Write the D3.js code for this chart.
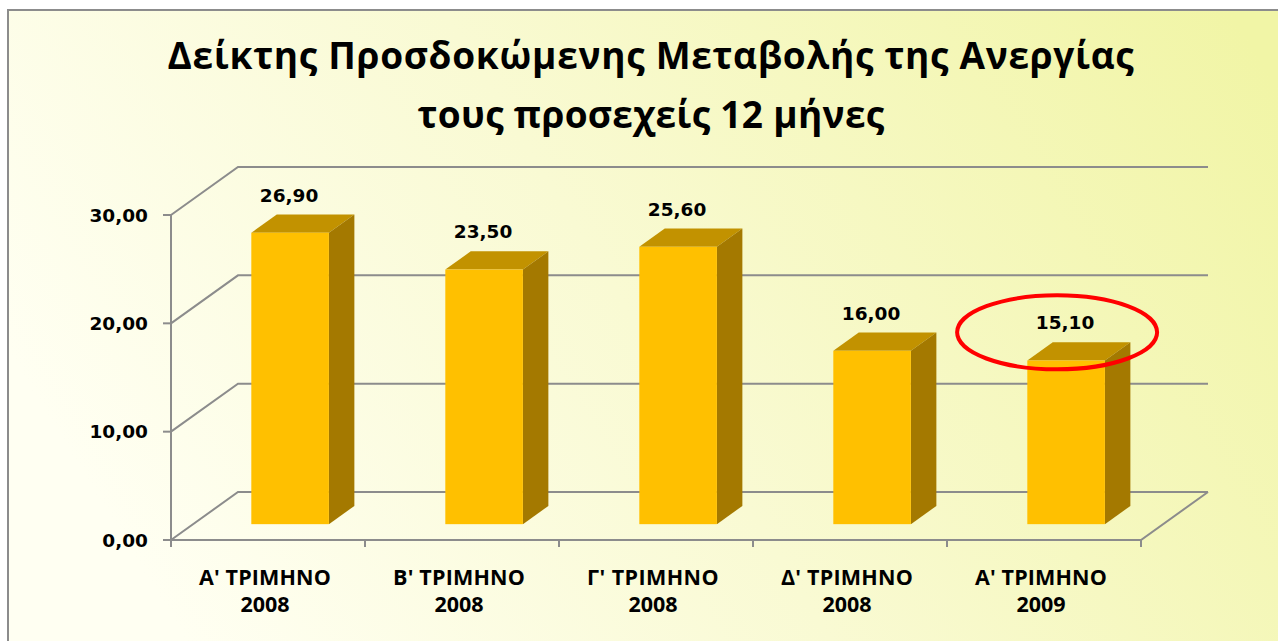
<!DOCTYPE html>
<html>
<head>
<meta charset="utf-8">
<script src="https://cdn.jsdelivr.net/npm/d3@7"></script>
<style>
  body { margin: 0; background: #fff; }
  svg { display: block; }
</style>
</head>
<body>
<script>
// chart values
var quarters = ["Α' ΤΡΙΜΗΝΟ", "Β' ΤΡΙΜΗΝΟ", "Γ' ΤΡΙΜΗΝΟ", "Δ' ΤΡΙΜΗΝΟ", "Α' ΤΡΙΜΗΝΟ"];
var years = ["2008", "2008", "2008", "2008", "2009"];
var values = [26.9, 23.5, 25.6, 16.0, 15.1];
var yTicks = [0, 10, 20, 30];
var titleLines = ["Δείκτης Προσδοκώμενης Μεταβολής της Ανεργίας", "τους προσεχείς 12 μήνες"];
var highlight = 4; // circled bar

const W = 1278, H = 641;
const plotLeft = 171, plotRight = 1141, plotBottom = 540, plotTop = 215;
const depthX = 67, depthY = -48;       // floor depth in screen px
const barFront = 0.33, barBack = 0.71; // bar position in depth

var gridColor = "#8c8c8c";
var faceColor = "#FFC000", topColor = "#C29200", sideColor = "#A47900";

var gr = d3.formatLocale({decimal: ",", thousands: ".", grouping: [3], currency: ["", "€"]});
var fmt = gr.format(".2f");

var svg = d3.select("body").append("svg")
    .attr("width", W)
    .attr("height", H);

var defs = svg.append("defs");
var bg = defs.append("linearGradient")
    .attr("id", "bg")
    .attr("gradientUnits", "userSpaceOnUse")
    .attr("x1", 160).attr("y1", 600)
    .attr("x2", 1200).attr("y2", -40);
bg.append("stop").attr("offset", 0).attr("stop-color", "#fffff2");
bg.append("stop").attr("offset", 0.45).attr("stop-color", "#f9fad3");
bg.append("stop").attr("offset", 1).attr("stop-color", "#f1f5a6");

svg.append("rect")
    .attr("x", 8).attr("y", 10)
    .attr("width", W + 20).attr("height", H + 20)
    .attr("fill", "url(#bg)")
    .attr("stroke", gridColor)
    .attr("stroke-width", 2);

var x = d3.scaleBand()
    .domain(d3.range(values.length))
    .range([plotLeft, plotRight])
    .paddingInner(0.6)
    .paddingOuter(0.3);

var y = d3.scaleLinear()
    .domain([0, 30])
    .range([plotBottom, plotTop]);

function p(px, py, d) {
  return [px + depthX * d, py + depthY * d];
}

// fit a text to a width by tightening its letter spacing
function fitSpacing(node, width) {
  var n = node.textContent.length;
  var w = node.getComputedTextLength();
  d3.select(node).style("letter-spacing", ((width - w) / n) + "px");
}

var chart = svg.append("g");

// back wall + side wall gridlines
var grid = chart.append("g")
    .attr("fill", "none")
    .attr("stroke", gridColor)
    .attr("stroke-width", 2);

grid.selectAll("path.grid")
  .data(yTicks)
  .enter().append("path")
    .attr("class", "grid")
    .attr("d", function(v) {
      return d3.line()([[plotLeft, y(v)], p(plotLeft, y(v), 1), p(plotRight, y(v), 1)]);
    });

// floor edges
grid.append("path")
    .attr("d", d3.line()([[plotLeft, plotBottom], [plotRight, plotBottom], p(plotRight, plotBottom, 1)]));

// front value axis
grid.append("line")
    .attr("x1", plotLeft).attr("x2", plotLeft)
    .attr("y1", y(0)).attr("y2", y(30));

grid.selectAll("line.ytick")
  .data(yTicks)
  .enter().append("line")
    .attr("class", "ytick")
    .attr("x1", plotLeft - 8).attr("x2", plotLeft)
    .attr("y1", function(v) { return y(v); })
    .attr("y2", function(v) { return y(v); });

grid.selectAll("line.xtick")
  .data(d3.range(values.length + 1))
  .enter().append("line")
    .attr("class", "xtick")
    .attr("x1", function(i) { return plotLeft + i * x.step(); })
    .attr("x2", function(i) { return plotLeft + i * x.step(); })
    .attr("y1", plotBottom).attr("y2", plotBottom + 7);

chart.selectAll("text.ylab")
  .data(yTicks)
  .enter().append("text")
    .attr("class", "ylab")
    .attr("x", plotLeft - 23)
    .attr("y", function(v) { return y(v); })
    .attr("dy", "0.36em")
    .attr("text-anchor", "end")
    .style("font-family", "'DejaVu Sans'")
    .style("font-weight", "bold")
    .style("font-size", "18.5px")
    .text(function(v) { return fmt(v); });

// 3d bars
var bars = chart.selectAll("g.bar")
  .data(values)
  .enter().append("g")
    .attr("class", "bar");

bars.append("path")
    .attr("fill", topColor)
    .attr("d", function(v, i) {
      var x0 = x(i), x1 = x(i) + x.bandwidth(), yt = y(v);
      return d3.line()([p(x0, yt, barFront), p(x1, yt, barFront), p(x1, yt, barBack), p(x0, yt, barBack)]) + "Z";
    });

bars.append("path")
    .attr("fill", sideColor)
    .attr("d", function(v, i) {
      var x1 = x(i) + x.bandwidth();
      return d3.line()([p(x1, y(v), barFront), p(x1, y(v), barBack), p(x1, y(0), barBack), p(x1, y(0), barFront)]) + "Z";
    });

bars.append("rect")
    .attr("fill", faceColor)
    .attr("x", function(v, i) { return p(x(i), 0, barFront)[0]; })
    .attr("y", function(v) { return p(0, y(v), barFront)[1]; })
    .attr("width", x.bandwidth())
    .attr("height", function(v) { return y(0) - y(v); });

function labelX(i) { return p(x(i) + x.bandwidth() / 2, 0, barFront)[0] - 1; }
function labelY(v) { return p(0, y(v), barBack)[1] - 13; }

chart.selectAll("text.val")
  .data(values)
  .enter().append("text")
    .attr("class", "val")
    .attr("x", function(v, i) { return labelX(i); })
    .attr("y", function(v) { return labelY(v); })
    .attr("text-anchor", "middle")
    .style("font-family", "'DejaVu Sans'")
    .style("font-weight", "bold")
    .style("font-size", "18.5px")
    .text(function(v) { return fmt(v); });

// category labels
var cats = chart.selectAll("text.cat")
  .data(quarters)
  .enter().append("text")
    .attr("class", "cat")
    .attr("text-anchor", "middle")
    .style("font-family", "'Open Sans'")
    .style("font-weight", "bold")
    .style("font-size", "21.5px")
    .attr("transform", function(d, i) {
      return "translate(" + (x(i) + x.bandwidth() / 2 - 3) + "," + (plotBottom + 45) + ")";
    });
cats.append("tspan").attr("x", 0).attr("y", 0).text(function(d) { return d; });
cats.append("tspan").attr("x", 0).attr("y", 27).text(function(d, i) { return years[i]; });
cats.each(function() { fitSpacing(d3.select(this).select("tspan").node(), 132); });

// red ellipse around the last value
var hv = values[highlight];
svg.append("ellipse")
    .attr("cx", labelX(highlight) - 8)
    .attr("cy", labelY(hv) + 3)
    .attr("rx", 100)
    .attr("ry", 37)
    .attr("fill", "none")
    .attr("stroke", "#ff0000")
    .attr("stroke-width", 4);

// title
var title = svg.append("g")
    .attr("text-anchor", "middle")
    .style("font-family", "'Open Sans'")
    .style("font-weight", "bold")
    .style("font-size", "37px");

var tl = title.selectAll("text")
  .data(titleLines)
  .enter().append("text")
    .attr("x", 651)
    .attr("y", function(d, i) { return 69 + i * 59; })
    .text(function(d) { return d; });

fitSpacing(tl.nodes()[0], 967);
fitSpacing(tl.nodes()[1], 467);
</script>
</body>
</html>
